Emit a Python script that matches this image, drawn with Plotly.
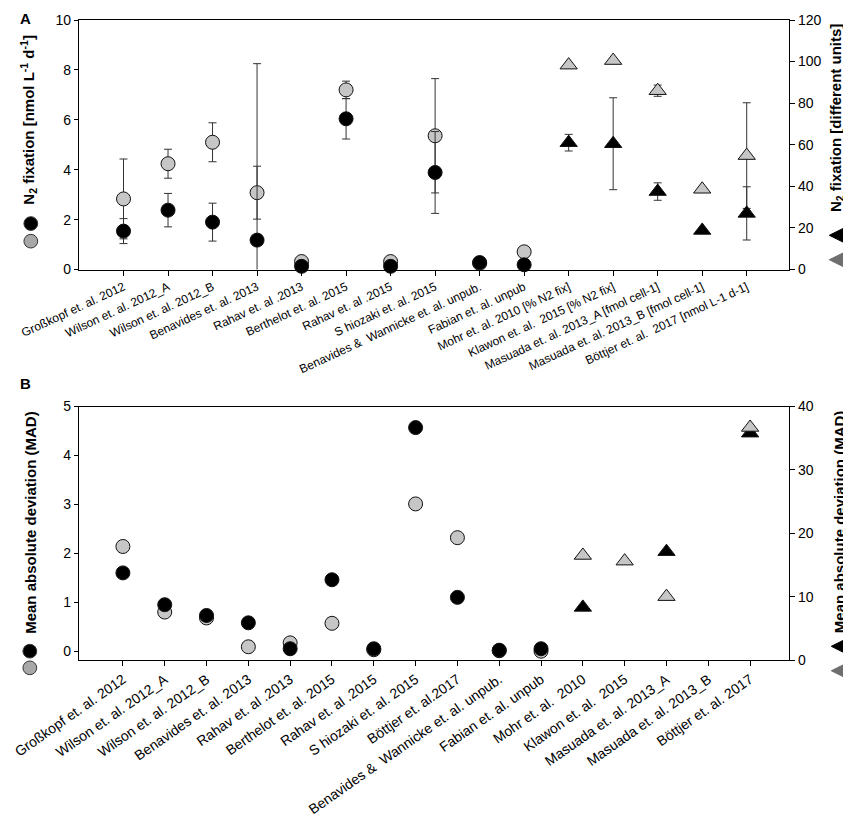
"""N2 fixation (A) and mean absolute deviation (B) by study."""
import plotly.graph_objects as go

# ---- panel A data ----
cats_a = [
    "Großkopf et. al. 2012", "Wilson et. al. 2012_A", "Wilson et. al. 2012_B",
    "Benavides et. al. 2013", "Rahav et. al .2013", "Berthelot et. al. 2015",
    "Rahav et. al .2015", "S hiozaki et. al. 2015",
    "Benavides &  Wannicke et. al. unpub.", "Fabian et. al. unpub",
    "Mohr et. al. 2010 [% N2 fix]", "Klawon et. al.  2015 [% N2 fix]",
    "Masuada et. al. 2013_A [fmol cell-1]", "Masuada et. al. 2013_B [fmol cell-1]",
    "Böttjer et. al.  2017 [nmol L-1 d-1]",
]
a_black_circ = [1.54, 2.38, 1.90, 1.18, 0.13, 6.04, 0.13, 3.89, 0.28, 0.19]
a_black_circ_err = [0.50, 0.67, 0.76, 7.07, 0, 0.81, 0, 1.64, 0, 0]
a_gray_circ = [2.83, 4.24, 5.10, 3.08, 0.32, 7.20, 0.32, 5.36, 0.25, 0.71]
a_gray_circ_err = [1.60, 0.58, 0.78, 1.06, 0, 0.35, 0, 2.29, 0, 0]
a_black_tri = [61.0, 60.5, 37.5, 18.8, 27.0]
a_black_tri_err = [4.0, 22.1, 4.2, 0, 12.8]
a_gray_tri = [98.3, 100.5, 86.0, 38.6, 54.8]
a_gray_tri_err = [0, 0, 2.7, 0, 25.4]

# ---- panel B data ----
cats_b = [
    "Großkopf et. al. 2012", "Wilson et. al. 2012_A", "Wilson et. al. 2012_B",
    "Benavides et. al. 2013", "Rahav et. al .2013", "Berthelot et. al. 2015",
    "Rahav et. al .2015", "S hiozaki et. al. 2015", "Böttjer et. al.2017",
    "Benavides &  Wannicke et. al. unpub.", "Fabian et. al. unpub",
    "Mohr et. al.  2010", "Klawon et. al.  2015", "Masuada et. al. 2013_A",
    "Masuada et. al. 2013_B", "Böttjer et. al. 2017",
]
b_black_circ = [1.60, 0.95, 0.73, 0.58, 0.05, 1.46, 0.05, 4.57, 1.10, 0.02, 0.05]
b_gray_circ = [2.14, 0.80, 0.68, 0.09, 0.17, 0.57, 0.03, 3.01, 2.32, 0.01, 0.0]
b_black_tri = [8.3, None, 17.1, None, 35.8]
b_gray_tri = [16.5, 15.6, 10.0, None, 36.7]

FONT = "Arial, Liberation Sans, sans-serif"
GRAY = "#c6c6c6"
ERR = dict(type="data", symmetric=True, color="#333333", thickness=1, width=4)

# the page body adds an 8px margin, so the figure is 8px smaller than the window;
# all positions below are window pixels
PAGE = 8
W, H = 851 - PAGE, 821 - PAGE
PLOT_L, PLOT_R, PLOT_T, PLOT_B = 67, 789, 12, 666


def px(x):
    return (x - PLOT_L) / (PLOT_R - PLOT_L)


def py(y):
    return (PLOT_B - y) / (PLOT_B - PLOT_T)


def err_trace(x, y, err, xa, ya):
    return go.Scatter(x=x, y=y, mode="markers", xaxis=xa, yaxis=ya,
                      marker=dict(opacity=0, size=2),
                      error_y=dict(array=err, **ERR), cliponaxis=True,
                      showlegend=False, hoverinfo="skip")


def mk_trace(x, y, symbol, fill, xa, ya):
    return go.Scatter(x=x, y=y, mode="markers", xaxis=xa, yaxis=ya,
                      marker=dict(symbol=symbol, size=14 if symbol == "circle" else 15,
                                  color=fill, line=dict(color="#111111", width=1)),
                      cliponaxis=False, showlegend=False)


fig = go.Figure()

# panel A
circ_x = cats_a[:10]
tri_x = cats_a[10:]
fig.add_trace(err_trace(circ_x, a_gray_circ, a_gray_circ_err, "x", "y"))
fig.add_trace(mk_trace(circ_x, a_gray_circ, "circle", GRAY, "x", "y"))
fig.add_trace(err_trace(circ_x, a_black_circ, a_black_circ_err, "x", "y"))
fig.add_trace(mk_trace(circ_x, a_black_circ, "circle", "black", "x", "y"))
fig.add_trace(err_trace(tri_x, a_gray_tri, a_gray_tri_err, "x", "y2"))
fig.add_trace(mk_trace(tri_x, a_gray_tri, "triangle-up", GRAY, "x", "y2"))
fig.add_trace(err_trace(tri_x, a_black_tri, a_black_tri_err, "x", "y2"))
fig.add_trace(mk_trace(tri_x, a_black_tri, "triangle-up", "black", "x", "y2"))

# panel B
fig.add_trace(mk_trace(cats_b[:11], b_gray_circ, "circle", GRAY, "x2", "y3"))
fig.add_trace(mk_trace(cats_b[:11], b_black_circ, "circle", "black", "x2", "y3"))
fig.add_trace(mk_trace(cats_b[11:], b_black_tri, "triangle-up", "black", "x2", "y4"))
fig.add_trace(mk_trace(cats_b[11:], b_gray_tri, "triangle-up", GRAY, "x2", "y4"))

axis_common = dict(showline=True, linecolor="black", linewidth=1.2, showgrid=False,
                   zeroline=False, ticks="outside", tickcolor="black",
                   tickfont=dict(family=FONT, size=14, color="black"))
y_common = dict(axis_common, ticklabeloverflow="allow")

fig.update_layout(
    width=W, height=H,
    margin=dict(l=PLOT_L - PAGE, r=851 - PLOT_R, t=PLOT_T - PAGE, b=821 - PLOT_B),
    paper_bgcolor="white", plot_bgcolor="white",
    font=dict(family=FONT, color="black"),
    xaxis=dict(axis_common, domain=[0, 1], anchor="y", type="category",
               categoryorder="array", categoryarray=cats_a, range=[-1, 14.95],
               mirror=True, ticklen=5, tickangle=-25,
               tickfont=dict(family=FONT, size=12, color="black")),
    yaxis=dict(y_common, domain=[py(267), 1], anchor="x", range=[0, 10],
               tickvals=[0, 2, 4, 6, 8, 10], ticklen=4),
    yaxis2=dict(y_common, overlaying="y", side="right", anchor="x",
                range=[0, 120], tickvals=[0, 20, 40, 60, 80, 100, 120], ticklen=5),
    xaxis2=dict(axis_common, domain=[0, 1], anchor="y3", type="category",
                categoryorder="array", categoryarray=cats_b, range=[-1.05, 15.93],
                mirror=True, ticklen=5, tickangle=-35,
                tickfont=dict(family=FONT, size=14, color="black")),
    yaxis3=dict(y_common, domain=[0, py(407)], anchor="x2", range=[-0.18, 5],
                tickvals=[0, 1, 2, 3, 4, 5], ticklen=4),
    yaxis4=dict(y_common, overlaying="y3", side="right", anchor="x2",
                range=[0, 40], tickvals=[0, 10, 20, 30, 40], ticklen=5),
)

# axis titles and panel letters
title_font = dict(family=FONT, size=15, color="black")
notes = [
    ("<b>N<sub>2</sub> fixation [nmol L<sup>-1</sup> d<sup>-1</sup>]</b>", 16, 114, -90),
    ("<b>N<sub>2</sub> fixation [different units]</b>", 838, 112, -90),
    ("<b>Mean absolute deviation (MAD)</b>", 17, 525, -90),
    ("<b>Mean absolute deviation (MAD)</b>", 840, 525, -90),
    ("<b>A</b>", 13, 10, 0),
    ("<b>B</b>", 13, 383, 0),
]
for text, x, y, ang in notes:
    fig.add_annotation(text=text, x=px(x), y=py(y), xref="paper", yref="paper",
                       textangle=ang, showarrow=False, xanchor="center",
                       yanchor="middle", font=title_font)


# legend symbols next to the axis titles
def circle(cx, cy, fill, r=7):
    fig.add_shape(type="circle", xref="paper", yref="paper",
                  x0=px(cx - r), x1=px(cx + r), y0=py(cy + r), y1=py(cy - r),
                  fillcolor=fill, line=dict(color="#333333", width=1))


def left_tri(cx, cy, fill, r=8):
    path = (f"M {px(cx - r)},{py(cy)} L {px(cx + r)},{py(cy - r)} "
            f"L {px(cx + r)},{py(cy + r)} Z")
    fig.add_shape(type="path", xref="paper", yref="paper", path=path,
                  fillcolor=fill, line=dict(color=fill, width=1))


circle(18, 220, "black")
circle(18, 238, "#a8a8a8")
left_tri(838, 232, "black")
left_tri(838, 257, "#6e6e6e")
circle(17, 657, "black")
circle(17, 674, "#a8a8a8")
left_tri(840, 652, "black")
left_tri(840, 677, "#6e6e6e")

fig.write_html("out.html", config={"displayModeBar": False})
